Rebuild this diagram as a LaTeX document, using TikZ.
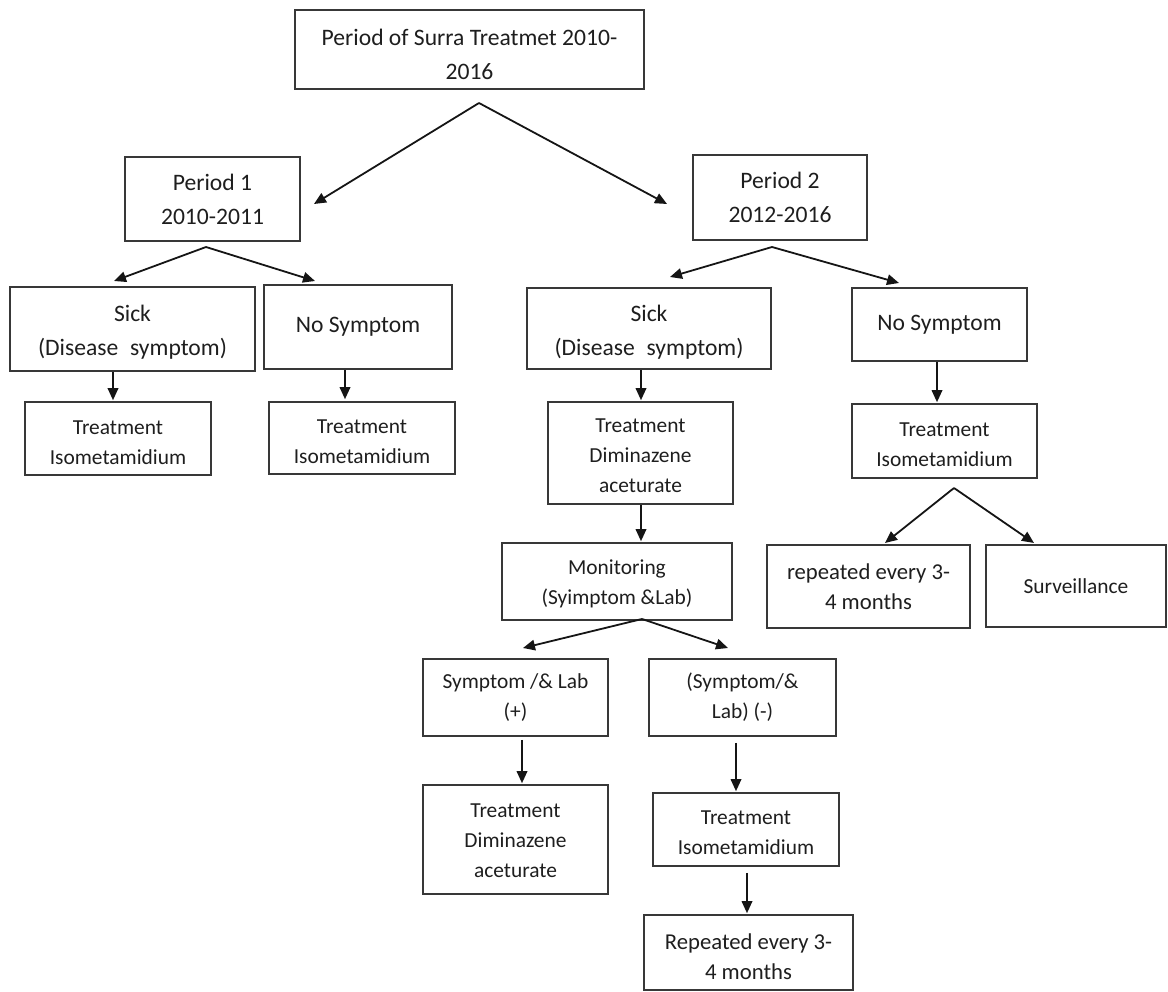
\documentclass[tikz,border=0pt]{standalone}
\usepackage{fontspec}
\setmainfont{Carlito}
\usetikzlibrary{arrows.meta}
\definecolor{boxline}{HTML}{383838}
\definecolor{txt}{HTML}{1E1E1E}
\definecolor{arrowcol}{HTML}{151515}
\newcommand{\dn}[1]{\rule{0pt}{#1pt}}
\tikzset{
  box/.style={draw=boxline, line width=1.6pt, inner sep=0pt, align=center, text=txt, rectangle},
  big/.style={font=\fontsize{23.6}{34}\selectfont},
  small/.style={font=\fontsize{21.4}{30}\selectfont},
  mid/.style={font=\fontsize{22.7}{30}\selectfont},
  arr/.style={draw=arrowcol, line width=1.8pt, -{Triangle[length=12pt,width=10.5pt]}},
}
\begin{document}
\begin{tikzpicture}[x=1pt,y=-1pt]
\useasboundingbox (0,0) rectangle (1168,992);

% boxes
\node[box,big,minimum width=349pt,minimum height=79pt] (top) at (469.5,49.5) {\dn{26}Period of Surra Treatmet 2010-\\2016};
\node[box,big,minimum width=175pt,minimum height=84pt] (p1) at (212.5,199) {Period 1\\2010-2011};
\node[box,big,minimum width=174pt,minimum height=85pt] (p2) at (780,197.5) {Period 2\\2012-2016};

\node[box,big,minimum width=245pt,minimum height=84pt] (sick1) at (132.5,329) {\dn{23}Sick\\(Disease\hspace{0.5em}symptom)};
\node[box,big,minimum width=188pt,minimum height=84pt] (nosym1) at (358,327) {No Symptom};
\node[box,small,minimum width=186pt,minimum height=73pt] (treat1a) at (118,438.5) {\dn{22}Treatment\\Isometamidium};
\node[box,small,minimum width=186pt,minimum height=72pt] (treat1b) at (362,438) {\dn{22}Treatment\\Isometamidium};

\node[box,big,minimum width=244pt,minimum height=81pt] (sick2) at (649,328.5) {\dn{23}Sick\\(Disease\hspace{0.5em}symptom)};
\node[box,big,minimum width=175pt,minimum height=73pt] (nosym2) at (939.5,324.5) {No Symptom};
\node[box,small,minimum width=185pt,minimum height=102pt] (treatD) at (640.5,453) {\dn{20}Treatment\\Diminazene\\aceturate};
\node[box,small,minimum width=230pt,minimum height=77pt] (monitor) at (617,581.5) {\dn{20}Monitoring\\(Syimptom \&Lab)};
\node[box,small,minimum width=185pt,minimum height=74pt] (treatI) at (944.5,441) {\dn{22}Treatment\\Isometamidium};
\node[box,mid,minimum width=203pt,minimum height=83pt] (rep1) at (868.5,586.5) {repeated every 3-\\4 months};
\node[box,small,minimum width=180pt,minimum height=82pt] (surv) at (1076,586) {Surveillance};

\node[box,small,minimum width=185pt,minimum height=77pt] (symP) at (515.5,697.5) {Symptom /\& Lab\\(+)};
\node[box,small,minimum width=187pt,minimum height=77pt] (symN) at (742.5,697.5) {(Symptom/\&\\Lab) (-)};
\node[box,small,minimum width=185pt,minimum height=109pt] (treatD2) at (515.5,839.5) {\dn{17}Treatment\\Diminazene\\aceturate};
\node[box,small,minimum width=186pt,minimum height=73pt] (treatI2) at (746,829.5) {\dn{21}Treatment\\Isometamidium};
\node[box,mid,minimum width=209pt,minimum height=75pt] (rep2) at (748.5,952.5) {\dn{24}Repeated every 3-\\4 months};

% branching points and tips
\coordinate (topV) at (479,103);
\coordinate (topL) at (314,204);
\coordinate (topR) at (667,204);
\coordinate (p1V) at (206,247);
\coordinate (p1L) at (114,281);
\coordinate (p1R) at (315,281);
\coordinate (p2V) at (772,247);
\coordinate (p2L) at (670,277);
\coordinate (p2R) at (899,283);
\coordinate (tiV) at (954,488);
\coordinate (tiL) at (885,543);
\coordinate (tiR) at (1034,543);
\coordinate (moV) at (642,619);
\coordinate (moL) at (523,648);
\coordinate (moR) at (728,648);

\draw[arr] (topV) -- (topL);
\draw[arr] (topV) -- (topR);
\draw[arr] (p1V) -- (p1L);
\draw[arr] (p1V) -- (p1R);
\draw[arr] (p2V) -- (p2L);
\draw[arr] (p2V) -- (p2R);
\draw[arr] (tiV) -- (tiL);
\draw[arr] (tiV) -- (tiR);
\draw[arr] (moV) -- (moL);
\draw[arr] (moV) -- (moR);

% vertical arrows
\draw[arr] ([xshift=-5pt]treat1a.north |- sick1.south) -- ([xshift=-5pt,yshift=1pt]treat1a.north);
\draw[arr] ([xshift=-17pt]treat1b.north |- nosym1.south) -- ([xshift=-17pt,yshift=2pt]treat1b.north);
\draw[arr] ([xshift=0.5pt]treatD.north |- sick2.south) -- ([xshift=0.5pt,yshift=1pt]treatD.north);
\draw[arr] ([xshift=0.5pt]treatD.south) -- ([xshift=0.5pt,yshift=1pt]treatD.south |- monitor.north);
\draw[arr] ([xshift=-2.5pt]nosym2.south) -- ([xshift=-2.5pt,yshift=1pt]nosym2.south |- treatI.north);
\draw[arr] ([xshift=6.5pt,yshift=-3pt]symP.south) -- ([xshift=6.5pt,yshift=1pt]treatD2.north);
\draw[arr] ([xshift=-6.5pt,yshift=-6pt]symN.south) -- ([xshift=-6.5pt,yshift=1pt]symN.south |- treatI2.north);
\draw[arr] ([xshift=1pt,yshift=-6pt]treatI2.south) -- ([xshift=1pt,yshift=1pt]treatI2.south |- rep2.north);
\end{tikzpicture}
\end{document}
